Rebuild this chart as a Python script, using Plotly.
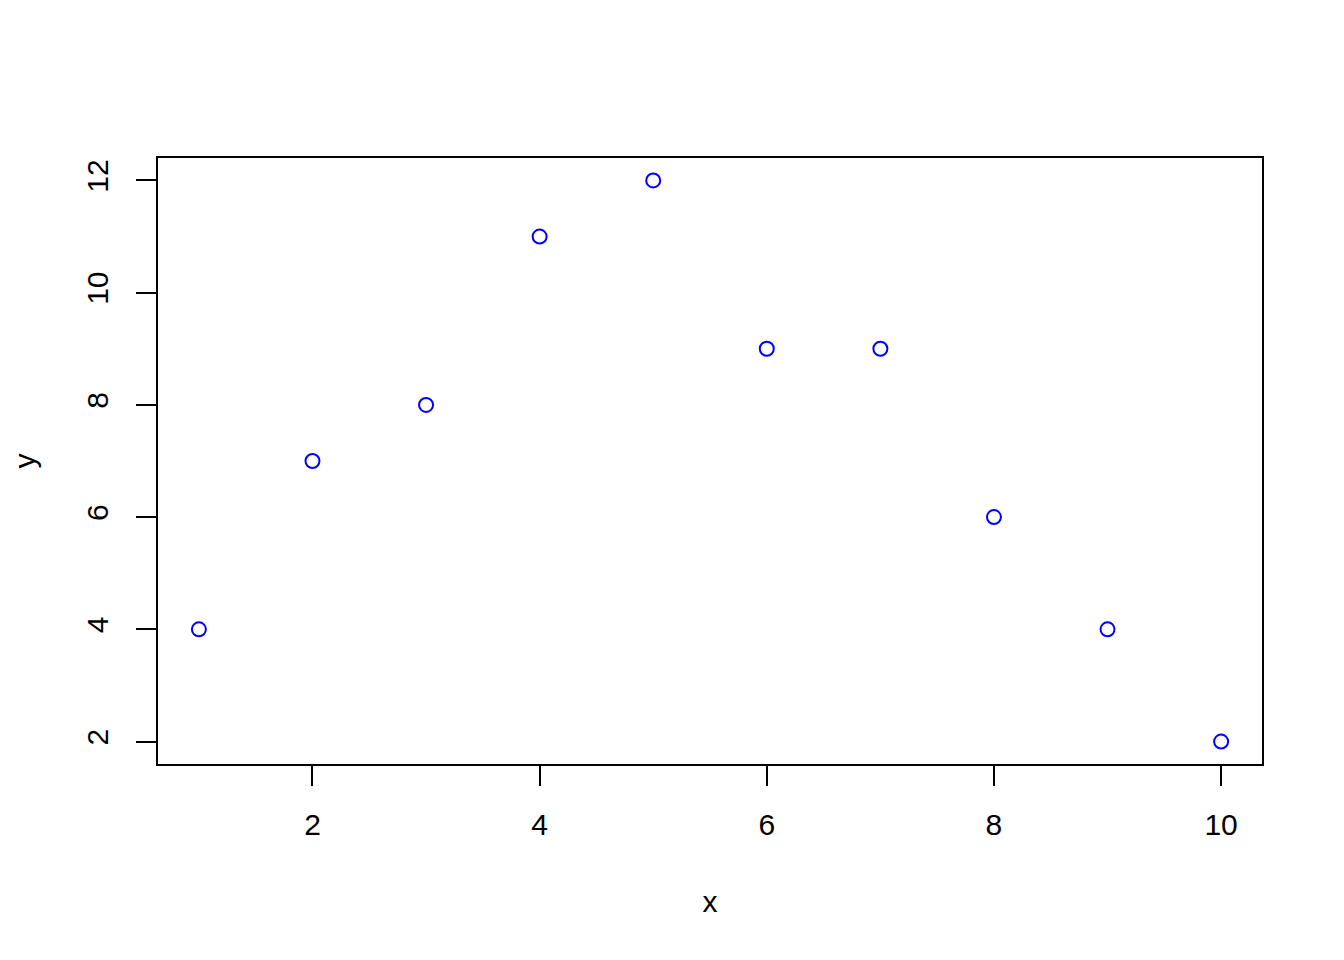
import plotly.graph_objects as go

x_vals = [1, 2, 3, 4, 5, 6, 7, 8, 9, 10]
y_vals = [4, 7, 8, 11, 12, 9, 9, 6, 4, 2]
x_ticks = [2, 4, 6, 8, 10]
y_ticks = [2, 4, 6, 8, 10, 12]

FONT = "Liberation Sans, Arial, Helvetica, sans-serif"

fig = go.Figure(
    go.Scatter(
        x=x_vals, y=y_vals, mode="markers",
        marker=dict(symbol="circle-open", size=14, color="#0000FF",
                    line=dict(width=2, color="#0000FF")),
        showlegend=False, hoverinfo="x+y",
    )
)

axis_common = dict(
    showgrid=False, zeroline=False, showline=True, mirror=True,
    linecolor="black", linewidth=1.5,
    ticks="outside", ticklen=20, tickwidth=1.5, tickcolor="black",
    tickfont=dict(family=FONT, size=30, color="black"),
)

fig.update_layout(
    width=1344, height=960,
    paper_bgcolor="white", plot_bgcolor="white",
    margin=dict(l=150, r=90, t=150, b=204),
    font=dict(family=FONT, color="black"),
    xaxis=dict(
        range=[0.64, 10.36], tickvals=x_ticks,
        ticktext=[str(v) for v in x_ticks],
        ticklabelstandoff=13,
        title=dict(text="x", font=dict(family=FONT, size=30), standoff=51),
        **axis_common,
    ),
    yaxis=dict(
        range=[1.6, 12.4], tickvals=y_ticks,
        ticktext=[str(v) for v in y_ticks],
        tickangle=-90, ticklabelstandoff=16,
        title=dict(text="y", font=dict(family=FONT, size=30), standoff=38),
        **axis_common,
    ),
)

fig.write_html("out.html")
